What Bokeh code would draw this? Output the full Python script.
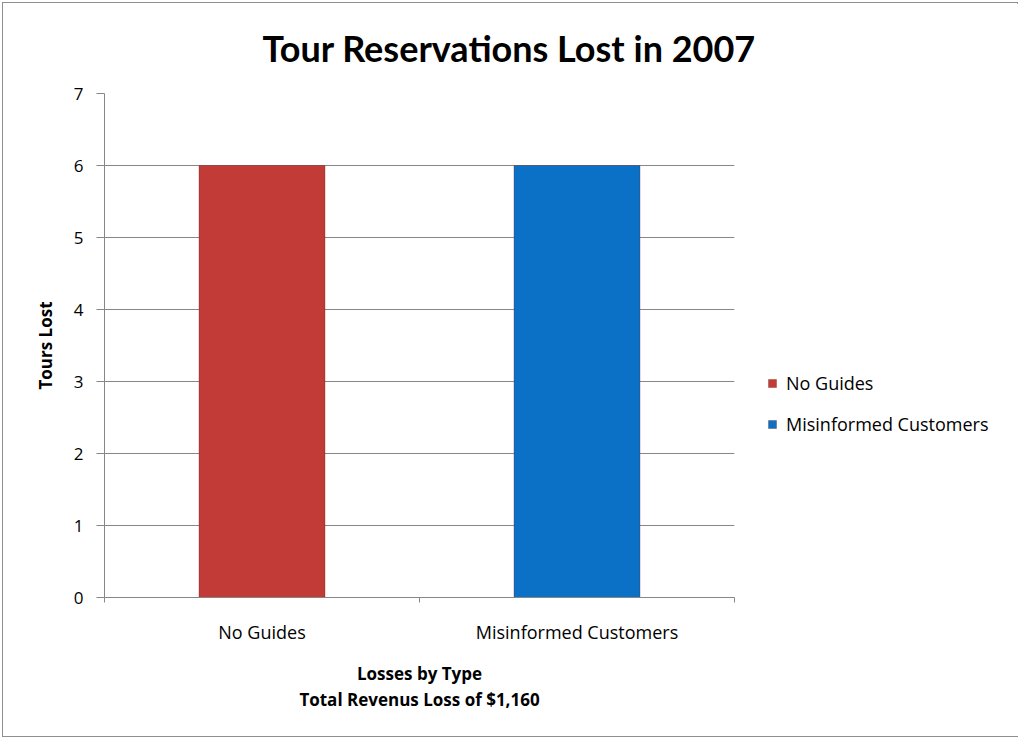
from bokeh.plotting import figure
from bokeh.models import ColumnDataSource, FixedTicker, Range1d, Legend, LegendItem
from bokeh.embed import file_html
from bokeh.resources import INLINE

# ---- data ----
categories = ["No Guides", "Misinformed Customers"]
tours_lost = [6, 6]
y_ticks = [0, 1, 2, 3, 4, 5, 6, 7]
title_text = "Tour Reservations Lost in 2007"
x_title = "Losses by Type\nTotal Revenus Loss of $1,160"
y_title = "Tours Lost"
bar_colors = ["#C23B36", "#0A71C7"]

FONT = "Open Sans"
TFONT = "Lato"
GRID = "#878787"

x_pos = [i + 0.5 for i in range(len(categories))]
boundaries = [float(i) for i in range(len(categories) + 1)]
src = ColumnDataSource(dict(x=x_pos, top=tours_lost, cat=categories, color=bar_colors))

p = figure(frame_width=630, frame_height=504, output_backend="svg", toolbar_location=None,
           x_range=Range1d(0, len(categories)), y_range=Range1d(y_ticks[0], y_ticks[-1]),
           min_border_left=101, min_border_right=283, min_border_top=90, min_border_bottom=139)
p.styles = {"border": "1px solid #8f8f8f", "margin": "2px",
            "width": "1014px", "height": "733px", "box-sizing": "content-box"}

r = p.vbar(x="x", top="top", bottom=0, width=0.4, source=src,
           fill_color="color", line_color="#6a2522", line_alpha=0.35)

legend = Legend(items=[LegendItem(label=c, renderers=[r], index=i) for i, c in enumerate(categories)],
                location=(33, 161), padding=0, margin=0, border_line_color=None,
                background_fill_alpha=0, glyph_width=10, glyph_height=10, label_standoff=9,
                spacing=17, label_text_font=FONT, label_text_font_size="18px",
                label_text_color="#000000")
p.add_layout(legend, "right")

p.title.text = title_text
p.title.text_font = TFONT
p.title.text_font_size = "36px"
p.title.text_font_style = "bold"
p.title.text_color = "#000000"
p.title.align = "left"
p.title.vertical_align = "top"
p.title.offset = 158
p.title.standoff = 44

p.outline_line_color = None
p.xgrid.visible = False
p.ygrid.ticker = FixedTicker(ticks=y_ticks)
p.ygrid.grid_line_color = GRID

# x axis
p.xaxis.ticker = FixedTicker(ticks=x_pos, minor_ticks=boundaries)
p.xaxis.major_label_overrides = {x: c for x, c in zip(x_pos, categories)}
p.xaxis.major_tick_line_color = None
p.xaxis.major_tick_out = 5
p.xaxis.major_tick_in = 0
p.xaxis.minor_tick_line_color = GRID
p.xaxis.minor_tick_out = 5
p.xaxis.minor_tick_in = 0
p.xaxis.axis_line_color = GRID
p.xaxis.major_label_standoff = 17
p.xaxis.major_label_text_font = FONT
p.xaxis.major_label_text_font_size = "18px"
p.xaxis.major_label_text_color = "#000000"
p.xaxis.axis_label = x_title
p.xaxis.axis_label_text_font = FONT
p.xaxis.axis_label_text_font_size = "17px"
p.xaxis.axis_label_text_font_style = "bold"
p.xaxis.axis_label_text_color = "#000000"
p.xaxis.axis_label_standoff = 15
p.xaxis.axis_label_text_line_height = 1.17

# y axis
p.yaxis.ticker = FixedTicker(ticks=y_ticks)
p.yaxis.minor_tick_line_color = None
p.yaxis.major_tick_line_color = GRID
p.yaxis.major_tick_out = 8
p.yaxis.major_tick_in = 0
p.yaxis.axis_line_color = GRID
p.yaxis.major_label_standoff = 13
p.yaxis.major_label_text_font = FONT
p.yaxis.major_label_text_font_size = "17px"
p.yaxis.major_label_text_color = "#000000"
p.yaxis.axis_label = y_title
p.yaxis.axis_label_text_font = FONT
p.yaxis.axis_label_text_font_size = "17px"
p.yaxis.axis_label_text_font_style = "bold"
p.yaxis.axis_label_text_color = "#000000"
p.yaxis.axis_label_standoff = 14

open("out.html", "w").write(file_html(p, INLINE))
